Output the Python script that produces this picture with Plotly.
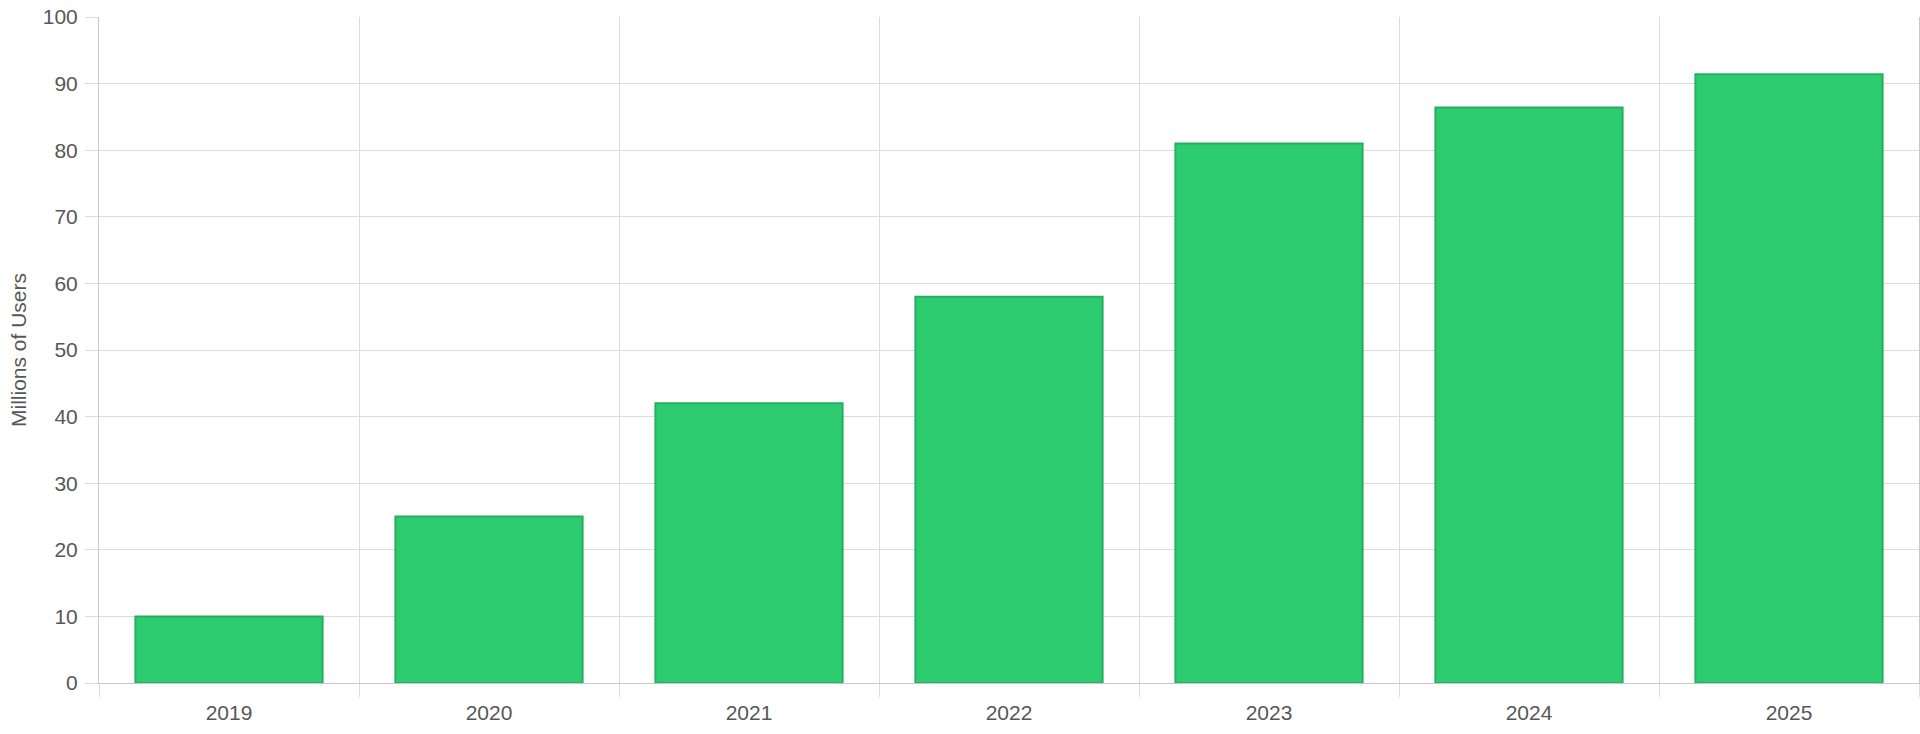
import plotly.graph_objects as go

# data
years = ["2019", "2020", "2021", "2022", "2023", "2024", "2025"]
users_millions = [10, 25, 42, 58, 81, 86.4, 91.4]

FONT = "Liberation Sans, Arial, Helvetica, sans-serif"
GRID = "#dddddd"
AXIS = "#c8c8c8"
TEXT = "#575757"

fig = go.Figure()

fig.add_trace(
    go.Bar(
        x=years,
        y=users_millions,
        marker=dict(color="#2ecc71", line=dict(color="#27ae60", width=2)),
        hoverinfo="x+y",
    )
)

fig.update_layout(
    width=1920,
    height=734,
    margin=dict(l=99, r=1, t=17, b=51, autoexpand=False),
    plot_bgcolor="white",
    paper_bgcolor="white",
    bargap=0.28,
    showlegend=False,
    font=dict(family=FONT, size=21, color=TEXT),
)

fig.update_xaxes(
    type="category",
    tickson="boundaries",
    automargin=False,
    showgrid=True,
    gridcolor=GRID,
    gridwidth=1,
    showline=True,
    linecolor=AXIS,
    linewidth=1,
    ticks="outside",
    ticklen=13,
    tickcolor=GRID,
    ticklabelstandoff=11,
    tickfont=dict(size=21, color=TEXT),
    range=[-0.5, 6.5],
)

fig.update_yaxes(
    range=[0, 100],
    dtick=10,
    automargin=False,
    showgrid=True,
    gridcolor=GRID,
    gridwidth=1,
    showline=True,
    mirror=True,
    linecolor=AXIS,
    linewidth=1,
    ticks="outside",
    ticklen=13,
    tickcolor=GRID,
    ticklabelstandoff=3,
    zeroline=False,
    tickfont=dict(size=21, color=TEXT),
)

# y-axis title placed by hand so the plot area keeps its size
fig.add_annotation(
    text="Millions of Users",
    textangle=-90,
    xref="paper", yref="paper",
    x=(18 - 99) / 1820, y=0.5,
    xanchor="center", yanchor="middle",
    showarrow=False,
    font=dict(size=21, color=TEXT),
)

# drop the browser's default 8px body margin so the figure sits at 0,0
fig.write_html(
    "out.html",
    config={"displayModeBar": False},
    post_script="document.body.style.margin='0';document.body.style.overflow='hidden';",
)
